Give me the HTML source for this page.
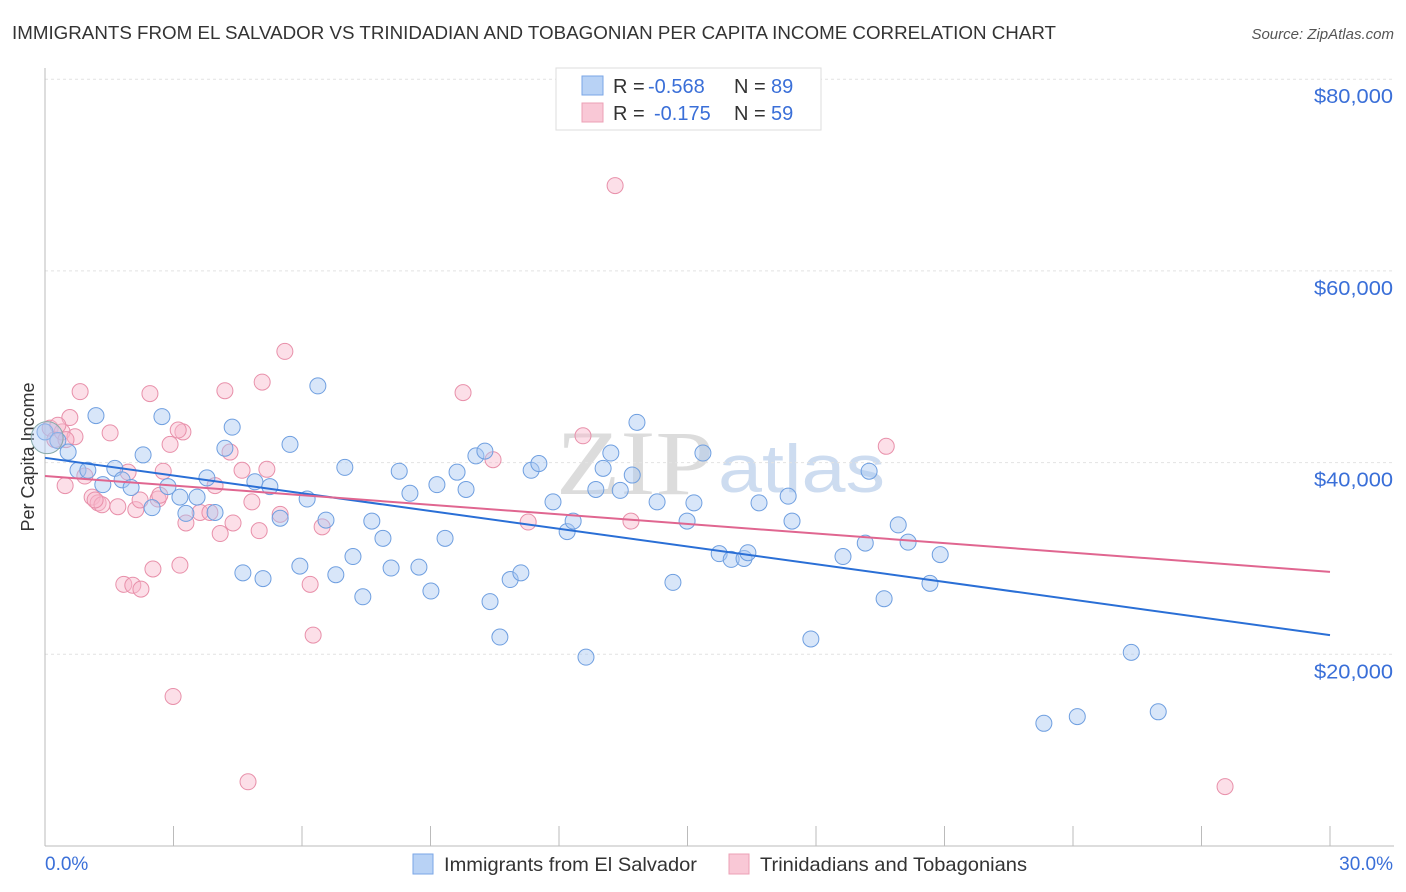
<!DOCTYPE html>
<html><head><meta charset="utf-8"><style>
body{margin:0;background:#fff;font-family:"Liberation Sans",sans-serif;}
#wrap{position:relative;width:1406px;height:892px;overflow:hidden;}
</style></head><body>
<div id="wrap">
<svg id="svg" width="1406" height="892" xmlns="http://www.w3.org/2000/svg">
<text x="12" y="39" font-size="18" fill="#333" textLength="1044" lengthAdjust="spacingAndGlyphs">IMMIGRANTS FROM EL SALVADOR VS TRINIDADIAN AND TOBAGONIAN PER CAPITA INCOME CORRELATION CHART</text>
<text x="1394" y="39" font-size="15" fill="#555" font-style="italic" text-anchor="end">Source: ZipAtlas.com</text>
<text x="34" y="457" font-size="18" fill="#333" text-anchor="middle" transform="rotate(-90 34 457)">Per Capita Income</text>
<text x="556" y="494" font-size="92" fill="#dcdcdc" font-family="Liberation Serif,serif" textLength="158" lengthAdjust="spacingAndGlyphs">ZIP</text>
<text x="718" y="492" font-size="68" fill="#cddcf0" textLength="167" lengthAdjust="spacingAndGlyphs">atlas</text>
<g id="grid"></g><g id="marks"></g>
</svg>
</div>
<script>
const xTicks=[0,3,6,9,12,15,18,21,24,27,30];
const yTicks=[20000,40000,60000,80000];
const yTickLabels=["$20,000","$40,000","$60,000","$80,000"];
const blueX=[0.0,0.30,0.54,0.77,1.00,1.19,1.35,1.63,1.80,2.01,2.29,2.50,2.73,2.87,3.15,3.29,3.55,3.78,3.97,4.20,4.37,4.62,4.90,5.09,5.25,5.49,5.72,5.95,6.12,6.37,6.56,6.79,7.00,7.19,7.42,7.63,7.89,8.08,8.27,8.52,8.73,9.01,9.15,9.34,9.62,9.83,10.06,10.27,10.39,10.62,10.86,11.11,11.35,11.53,11.86,12.19,12.33,12.63,12.86,13.03,13.21,13.43,13.71,13.82,14.29,14.66,14.99,15.15,15.36,15.74,16.02,16.32,16.41,16.67,17.35,17.44,17.88,18.63,19.15,19.24,19.59,19.92,20.15,20.66,20.90,23.32,24.10,25.36,25.99];
const blueY=[43.2,42.3,41.1,39.2,39.2,44.9,37.7,39.4,38.2,37.4,40.8,35.3,44.8,37.5,36.4,34.7,36.4,38.4,34.8,41.5,43.7,28.5,38.0,27.9,37.5,34.2,41.9,29.2,36.2,48.0,34.0,28.3,39.5,30.2,26.0,33.9,32.1,29.0,39.1,36.8,29.1,26.6,37.7,32.1,39.0,37.2,40.7,41.2,25.5,21.8,27.8,28.5,39.2,39.9,35.9,32.8,33.9,19.7,37.2,39.4,41.0,37.1,38.7,44.2,35.9,27.5,33.9,35.8,41.0,30.5,29.9,30.0,30.6,35.8,36.5,33.9,21.6,30.2,31.6,39.1,25.8,33.5,31.7,27.4,30.4,12.8,13.5,20.2,14.0];
const pinkX=[0.12,0.23,0.40,0.47,0.58,0.70,0.82,0.93,1.10,1.24,1.33,1.52,1.70,1.94,1.84,2.05,2.12,2.24,2.45,2.52,2.64,2.76,2.92,2.99,3.15,3.22,3.29,3.62,3.97,4.09,4.20,4.32,4.39,4.60,4.74,4.83,5.00,5.07,5.18,5.49,5.60,6.19,6.26,6.47,9.76,10.46,11.28,12.56,13.31,13.68,19.64,27.55,0.30,0.49,1.17,2.22,2.68,3.11,3.85];
const pinkY=[43.6,42.4,43.2,37.6,44.7,42.7,47.4,38.6,36.4,35.8,35.6,43.1,35.4,39.0,27.3,27.2,35.1,26.8,47.2,28.9,36.2,39.1,41.9,15.6,29.3,43.2,33.7,34.8,37.6,32.6,47.5,41.1,33.7,39.2,6.7,35.9,32.9,48.4,39.3,34.6,51.6,27.3,22.0,33.3,47.3,40.3,33.8,42.8,68.9,33.9,41.7,6.2,43.9,42.4,36.1,36.1,36.6,43.4,34.8];
const blueTrend=[40.5,22.0];
const pinkTrend=[38.6,28.6];

const NS="http://www.w3.org/2000/svg";
const X=v=>45+v/30*1285;
const Y=v=>846-v/20000*191.7;
function mk(tag,attrs,parent){const e=document.createElementNS(NS,tag);for(const k in attrs)e.setAttribute(k,attrs[k]);parent.appendChild(e);return e;}
const grid=document.getElementById('grid'),marks=document.getElementById('marks');
yTicks.forEach((t,i)=>{
  const l=mk('line',{x1:45,x2:1394,y1:Y(t),y2:Y(t),stroke:'#e2e2e2','stroke-dasharray':'3,3'},grid);
  
  
  const tx=mk('text',{x:1393,y:Y(t)+24,'font-size':20,fill:'#3a6fd8','text-anchor':'end',textLength:79,lengthAdjust:'spacingAndGlyphs'},grid);
  tx.textContent=yTickLabels[i];
  
  
});
const ax=mk('line',{x1:45,x2:45,y1:68,y2:846,stroke:'#bbb'},grid);


const bx=mk('line',{x1:45,x2:1394,y1:846,y2:846,stroke:'#bbb'},grid);


xTicks.forEach(t=>{
  const l=mk('line',{x1:X(t),x2:X(t),y1:826,y2:846,stroke:'#bbb'},grid);
  
  
});
const xl0=mk('text',{x:45,y:870,'font-size':19,fill:'#3a6fd8'},grid);xl0.textContent=xTicks[0].toFixed(1)+'%';


const xl1=mk('text',{x:1393,y:870,'font-size':19,fill:'#3a6fd8','text-anchor':'end'},grid);xl1.textContent=xTicks[xTicks.length-1].toFixed(1)+'%';


function dots(xs,ys,fill,stroke,name){xs.forEach((x,i)=>{
  const c=mk('circle',{cx:X(x),cy:Y(ys[i]*1000),r:8,fill:fill,'fill-opacity':0.45,stroke:stroke,'stroke-width':1},marks);
  
  
});}
dots(pinkX,pinkY,'#f8b8cc','#e890aa','pink-point');
dots(blueX,blueY,'#a9c8f2','#6f9fe0','blue-point');
const big=mk('circle',{cx:X(0.05),cy:Y(42600),r:16,fill:'#a9c8f2','fill-opacity':0.4,stroke:'#8aa',"stroke-width":1},marks);


const tb=mk('line',{x1:X(0),y1:Y(blueTrend[0]*1000),x2:X(30),y2:Y(blueTrend[1]*1000),stroke:'#2a6fd6','stroke-width':2},marks);


const tp=mk('line',{x1:X(0),y1:Y(pinkTrend[0]*1000),x2:X(30),y2:Y(pinkTrend[1]*1000),stroke:'#e06690','stroke-width':2},marks);


</script>
<svg style="position:absolute;left:0;top:0" width="1406" height="892" xmlns="http://www.w3.org/2000/svg">
<g>
<rect x="556" y="68" width="265" height="62" fill="#fff" stroke="#ddd"/>
<rect x="582" y="76" width="21" height="19" fill="#b8d2f5" stroke="#7aa6e6"/>
<rect x="582" y="103" width="21" height="19" fill="#f9c8d6" stroke="#eca0b6"/>
<text x="613" y="93" font-size="20" fill="#333">R = <tspan fill="#3a6fd8" x="648">-0.568</tspan><tspan x="734">N = </tspan><tspan fill="#3a6fd8" x="771">89</tspan></text>
<text x="613" y="120" font-size="20" fill="#333">R = <tspan fill="#3a6fd8" x="654">-0.175</tspan><tspan x="734">N = </tspan><tspan fill="#3a6fd8" x="771">59</tspan></text>
</g>
<g>
<rect x="413" y="854" width="20" height="20" fill="#b8d2f5" stroke="#7aa6e6"/>
<text x="444" y="871" font-size="19.5" fill="#333" textLength="253" lengthAdjust="spacingAndGlyphs">Immigrants from El Salvador</text>
<rect x="729" y="854" width="20" height="20" fill="#f9c8d6" stroke="#eca0b6"/>
<text x="760" y="871" font-size="19.5" fill="#333" textLength="267" lengthAdjust="spacingAndGlyphs">Trinidadians and Tobagonians</text>
</g>
</svg>
</body></html>
